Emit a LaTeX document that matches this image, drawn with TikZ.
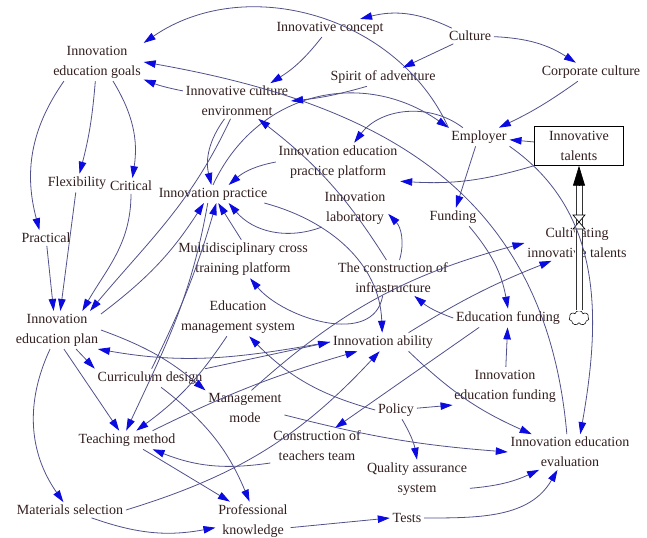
\documentclass[tikz,border=0pt]{standalone}
\usepackage{fontspec}
\setmainfont{Liberation Serif}
\usetikzlibrary{arrows.meta,shapes.symbols}
\definecolor{linkcol}{RGB}{80,80,140}
\definecolor{headcol}{RGB}{10,10,225}
\definecolor{txtcol}{RGB}{50,30,30}

\begin{document}
\begin{tikzpicture}[x=0.75pt,y=0.75pt,
	var/.style={text=txtcol,align=center,inner sep=2pt,font=\fontsize{10.5}{15}\selectfont},
	link/.style={draw=linkcol,line width=0.6pt,-{Triangle[length=9pt,width=5.6pt,color=headcol]}},
	flowline/.style={draw=black!80,line width=0.6pt}]
\useasboundingbox (0,0) rectangle (647,537);
\node[var] (IEG) at (97,475) {Innovation\\education goals};
\node[var] (IC) at (330,509) {Innovative concept};
\node[var] (CU) at (470,501) {Culture};
\node[var] (CC) at (591,465) {Corporate culture};
\node[var] (SA) at (383,460) {Spirit of adventure};
\node[var] (ICE) at (237,436) {Innovative culture\\environment};
\node[var] (EM) at (479,400) {Employer};
\node[var] (IEPP) at (338,375) {Innovation education\\practice platform};
\node[var] (IP) at (213,343) {Innovation practice};
\node[var] (FL) at (77,354) {Flexibility};
\node[var] (CR) at (131,351) {Critical};
\node[var] (PR) at (46,299) {Practical};
\node[var] (IL) at (355,329) {Innovation\\laboratory};
\node[var] (FU) at (453,320) {Funding};
\node[var] (MCT) at (243,278) {Multidisciplinary cross\\training platform};
\node[var] (CIT) at (577,294) {Cultivating\\innovative talents};
\node[var] (CI) at (393,259) {The construction of\\infrastructure};
\node[var] (EF) at (508,219) {Education funding};
\node[var] (IEP) at (57,207) {Innovation\\education plan};
\node[var] (EMS) at (238,220) {Education\\management system};
\node[var] (IA) at (383,195) {Innovation ability};
\node[var] (CD) at (150,159) {Curriculum design};
\node[var] (MM) at (245,129) {Management\\mode};
\node[var] (PO) at (396,127) {Policy};
\node[var] (IEF) at (505,151) {Innovation\\education funding};
\node[var] (TM) at (127,97) {Teaching method};
\node[var] (CTT) at (317,91) {Construction of\\teachers team};
\node[var] (IEE) at (570,85) {Innovation education\\evaluation};
\node[var] (QAS) at (417,58) {Quality assurance\\system};
\node[var] (MS) at (70,27) {Materials selection};
\node[var] (PK) at (253,16) {Professional\\knowledge};
\node[var] (TE) at (407,19) {Tests};
\node[var,draw=black,line width=0.6pt,fill=white,minimum width=67pt,minimum height=29pt] (IT) at (579,391) {Innovative\\talents};
% stock and flow
\node[cloud,draw,cloud puffs=7,minimum width=15pt,minimum height=11pt,inner sep=0pt] (CL) at (579,219) {};
\coordinate (VT) at (579,352);
\coordinate (VL) at (576,352);
\coordinate (VR) at (582,352);
\fill[white] (575,226) rectangle (583,352);
\draw[flowline] (CL.north) ++(-3,0) -- (VL);
\draw[flowline] (CL.north) ++(3,0) -- (VR);
\draw[line width=0.5pt,-{Triangle[length=15pt,width=9pt,color=black]}] (VT) -- (IT.south);
\draw[fill=white,line width=0.5pt] (573,322) -- (585,322) -- (573,308) -- (585,308) -- cycle;
% top
\draw[link] (EM.north west) to[bend right=50] (IEG.north east);
\draw[link] (IEE.100) to[out=95,in=-10,looseness=1.1] (IEG.east);
\draw[link] (ICE) to[bend left=5] (IEG);
\draw[link] (IC) to[bend left=10] (ICE);
\draw[link] (CU) to[bend right=20] (IC);
\draw[link] (CU) to (SA);
\draw[link] (CU) to[bend left=15] (CC);
\draw[link] (CC) to[bend left=5] (EM);
\draw[link] (IP.north) to[out=65,in=145,looseness=1.1] (EM.north west);
\draw[link] (IT) to (EM);
\draw[link] (EM.150) to[bend right=45] (IEPP.50);
\draw[link] (IT.south west) to[bend left=10] (IEPP.south east);
\draw[link] (EM.-110) to (FU);
\draw[link] (FU.-30) to[bend left=15] (EF.north);
\draw[link] (EM.south east) to[out=-35,in=80] (IEE.60);
\draw[link] (SA.-150) to[bend left=5] (ICE.0);
% innovation practice
\draw[link] (IEPP.west) to[bend right=15] (IP.30);
\draw[link] (ICE.235) to[bend right=25] (IP.100);
\draw[link] (IL.south west) to[bend left=35] (IP.-30);
\draw[link] (MCT.95) to (IP.-60);
\draw[link] (IEP.20) to[bend right=10] (IP.-135);
\draw[link] (CD.80) to[bend right=5] (IP.-70);
\draw[link] (IP.-10) to[out=-15,in=92] (IA.95);
\draw[link] (IP.-120) to[out=-100,in=65] (TM.95);
% goals and plan
\draw[link] (IEG.-95) to[bend left=5] (FL);
\draw[link] (IEG.-50) to[bend left=20] (CR);
\draw[link] (IEG.-150) to[out=-125,in=105] (PR.130);
\draw[link] (ICE.-110) to[out=-115,in=50] (IEP.30);
\draw[link] (CR.south) to[out=-90,in=60] (IEP.37);
\draw[link] (FL) to (IEP.80);
\draw[link] (PR) to (IEP.100);
\draw[link] (IEP.-110) to[bend right=30] (MS.130);
\draw[link] (IEP.-70) to (TM.130);
\draw[link] (IEP.-45) to (CD.north west);
\draw[link] (IA.west) to[out=190,in=-10] (IEP.-25);
\draw[link] (CD.north east) to (IA.west);
\draw[link] (IEP.east) to[bend left=10] (MM.north west);
% middle
\draw[link] (EMS.-120) to[bend left=10] (TM.45);
\draw[link] (CI.-120) to[out=-100,in=-50] (MCT.-70);
\draw[link] (MM.70) to[out=42,in=195] (CIT.west);
\draw[link] (CI.110) to[bend right=10] (ICE.-40);
\draw[link] (CI.70) to[bend right=30] (IL.-10);
\draw[link] (EF.west) to[bend left=10] (CI.-40);
\draw[link] (IEF) to (EF);
\draw[link] (EF.-162) to (CTT.45);
\draw[link] (IA.20) to[bend left=5] (CIT.-145);
\draw[link] (IA.-20) to[bend right=10] (IEE.155);
\draw[link] (PO) to (IEF.200);
\draw[link] (PO) to[bend left=10] (QAS.north);
\draw[link] (PO.west) to[bend left=15] (EMS.-60);
\draw[link] (MM.-10) to[bend right=5] (IEE.west);
% bottom
\draw[link] (QAS.-10) to[bend right=10] (IEE.-150);
\draw[link] (TE.east) to[out=0,in=-120] (IEE.-125);
\draw[link] (PK.-10) to (TE.west);
\draw[link] (MS.-20) to[bend right=15] (PK.190);
\draw[link] (MS.east) to[bend right=15] (IA.-110);
\draw[link] (TM.20) to[bend left=5] (IA.-160);
\draw[link] (CTT.200) to[bend left=15] (TM.-20);
\draw[link] (TM.-30) to (PK.140);
\draw[link] (CD.-40) to[bend left=15] (PK.100);
\end{tikzpicture}
\end{document}
